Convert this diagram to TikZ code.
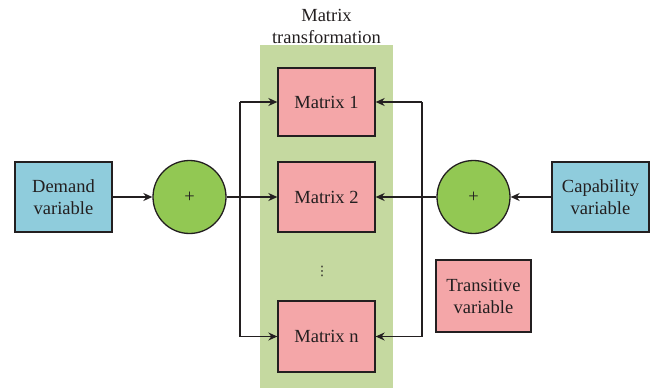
\documentclass[tikz,border=0pt]{standalone}
\usepackage{fontspec}
\setmainfont{Liberation Serif}
\newfontfamily\symbolfont{DejaVu Sans}
\usetikzlibrary{arrows.meta}
\definecolor{inkc}{HTML}{231F20}
\definecolor{varblue}{HTML}{8FCCDC}
\definecolor{sumgreen}{HTML}{92C853}
\definecolor{matpink}{HTML}{F4A6A8}
\definecolor{panelgreen}{HTML}{C5D9A0}
\begin{document}
\begin{tikzpicture}[x=1pt,y=-1pt,
  every node/.style={text=inkc, font=\fontsize{18.5}{22}\selectfont},
  varbox/.style={draw=inkc, line width=1.3pt, fill=varblue, minimum width=97pt, minimum height=70pt, align=center, inner sep=0pt},
  matbox/.style={draw=inkc, line width=1.3pt, fill=matpink, minimum width=97pt, minimum height=70pt, align=center, inner sep=0pt},
  sumnode/.style={draw=inkc, line width=1.3pt, fill=sumgreen, circle, minimum size=73pt, inner sep=0pt},
  link/.style={draw=inkc, line width=1.3pt},
  arrowlink/.style={link, -{Stealth[length=9pt,width=8pt]}}
]
\useasboundingbox (0,0) rectangle (654,388);

% panel behind the matrices
\fill[panelgreen] (260,45) rectangle (393,388);
\node[align=center] (title) at (326.5,26) {Matrix\\transformation};

% blocks
\node[varbox] (demand) at (63.5,197) {Demand\\variable};
\node[sumnode] (sumL) at (189.5,197) {+};
\node[matbox, minimum height=68pt] (m1) at (326.5,102) {Matrix 1};
\node[matbox] (m2) at (326.5,197) {Matrix 2};
\node[font=\symbolfont\fontsize{13}{13}\selectfont, inner sep=0pt] (dots) at (322,271) {⋮};
\node[matbox, minimum height=71pt] (mn) at (326.5,336.5) {Matrix n};
\node[sumnode] (sumR) at (473.5,197) {+};
\node[varbox] (cap) at (600.5,197) {Capability\\variable};
\node[matbox, minimum width=95pt, minimum height=72pt] (trans) at (483.5,296) {Transitive\\variable};

% distribution buses
\coordinate (lt) at (240,0 |- m1.west);
\coordinate (lb) at (240,0 |- mn.west);
\coordinate (rt) at (422,0 |- m1.east);
\coordinate (rb) at (422,0 |- mn.east);

% left side
\draw[arrowlink] (demand.east) -- (sumL.west);
\draw[arrowlink] (sumL.east) -- (m2.west);
\draw[link] (lt) -- (lb);
\draw[arrowlink] (lt) -- (m1.west);
\draw[arrowlink] (lb) -- (mn.west);

% right side
\draw[arrowlink] (cap.west) -- (sumR.east);
\draw[arrowlink] (sumR.west) -- (m2.east);
\draw[link] (rt) -- (rb);
\draw[arrowlink] (rt) -- (m1.east);
\draw[arrowlink] (rb) -- (mn.east);
\end{tikzpicture}
\end{document}
